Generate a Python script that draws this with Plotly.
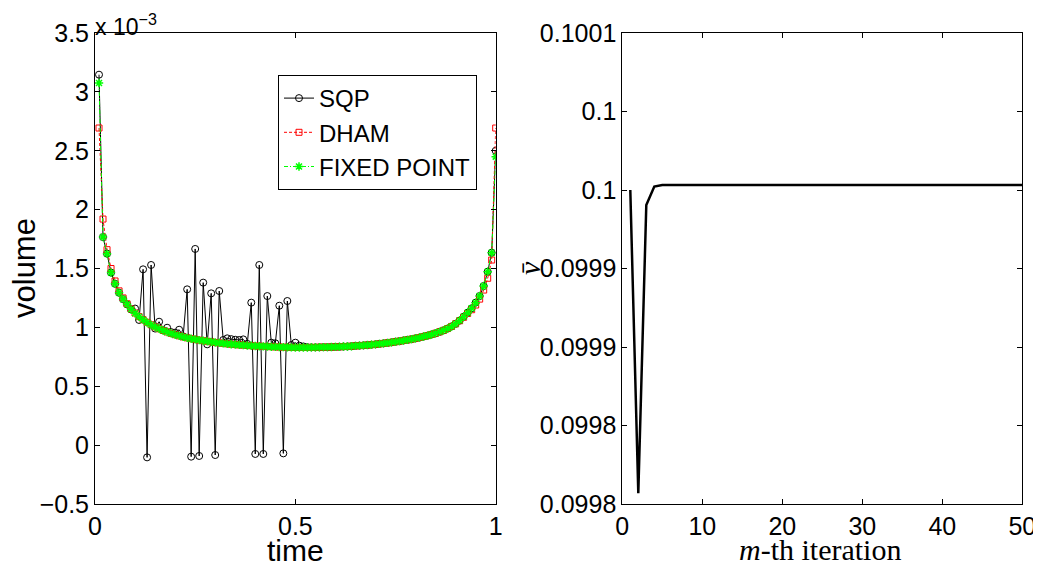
import plotly.graph_objects as go

# ---------------- data (left panel, volume in units of 1e-3) ----------------
time = [round(k * 0.01, 2) for k in range(1, 101)]

fixed_point = [
    3.075, 1.767, 1.626, 1.465, 1.370, 1.294, 1.240, 1.196, 1.153, 1.120,
    1.090, 1.064, 1.042, 1.022, 1.004, 0.988, 0.974, 0.961, 0.949, 0.938,
    0.928, 0.919, 0.911, 0.904, 0.898, 0.892, 0.887, 0.882, 0.877, 0.872,
    0.868, 0.864, 0.860, 0.857, 0.854, 0.851, 0.849, 0.846, 0.844, 0.842,
    0.840, 0.839, 0.837, 0.836, 0.834, 0.833, 0.832, 0.831, 0.830, 0.829,
    0.829, 0.829, 0.829, 0.830, 0.830, 0.831, 0.832, 0.832, 0.833, 0.834,
    0.835, 0.837, 0.838, 0.840, 0.843, 0.845, 0.847, 0.850, 0.853, 0.856,
    0.860, 0.864, 0.868, 0.873, 0.878, 0.883, 0.889, 0.894, 0.900, 0.907,
    0.914, 0.922, 0.930, 0.940, 0.950, 0.962, 0.975, 0.990, 1.008, 1.030,
    1.058, 1.090, 1.125, 1.162, 1.210, 1.266, 1.351, 1.473, 1.634, 2.450,
]

dham = [
    2.693, 1.920, 1.660, 1.500, 1.394, 1.310, 1.250, 1.200, 1.156, 1.122,
    1.091, 1.065, 1.043, 1.022, 1.004, 0.988, 0.974, 0.961, 0.949, 0.938,
    0.928, 0.919, 0.911, 0.904, 0.898, 0.892, 0.887, 0.882, 0.877, 0.872,
    0.868, 0.864, 0.860, 0.857, 0.854, 0.851, 0.849, 0.846, 0.844, 0.842,
    0.840, 0.839, 0.837, 0.836, 0.834, 0.833, 0.832, 0.831, 0.830, 0.829,
    0.829, 0.829, 0.829, 0.830, 0.830, 0.831, 0.832, 0.832, 0.833, 0.834,
    0.835, 0.837, 0.838, 0.840, 0.843, 0.845, 0.847, 0.850, 0.853, 0.856,
    0.860, 0.864, 0.868, 0.873, 0.878, 0.883, 0.889, 0.894, 0.900, 0.907,
    0.914, 0.922, 0.930, 0.940, 0.950, 0.962, 0.975, 0.990, 1.008, 1.030,
    1.056, 1.086, 1.118, 1.150, 1.190, 1.240, 1.317, 1.417, 1.572, 2.693,
]

sqp = [
    3.146, 1.767, 1.626, 1.465, 1.370, 1.294, 1.240, 1.196, 1.153, 1.160,
    1.063, 1.493, -0.104, 1.530, 0.990, 1.048, 0.975, 0.997, 0.960, 0.955,
    0.980, 0.924, 1.323, -0.098, 1.666, -0.092, 1.380, 0.856, 1.289, -0.084,
    1.309, 0.893, 0.907, 0.900, 0.895, 0.893, 0.898, 0.860, 1.210, -0.075,
    1.530, -0.075, 1.266, 0.870, 0.865, 1.184, -0.070, 1.224, 0.850, 0.870,
    0.845, 0.838, 0.832, 0.830, 0.830, 0.831, 0.832, 0.832, 0.833, 0.834,
    0.835, 0.837, 0.838, 0.840, 0.843, 0.845, 0.847, 0.850, 0.853, 0.856,
    0.860, 0.864, 0.868, 0.873, 0.878, 0.883, 0.889, 0.894, 0.900, 0.907,
    0.914, 0.922, 0.930, 0.940, 0.950, 0.962, 0.975, 0.990, 1.008, 1.030,
    1.058, 1.090, 1.125, 1.162, 1.210, 1.266, 1.351, 1.473, 1.634, 2.500,
]

left_yticks = [-0.5, 0, 0.5, 1, 1.5, 2, 2.5, 3, 3.5]
left_yticktext = ["\u22120.5", "0", "0.5", "1", "1.5", "2", "2.5", "3", "3.5"]
left_xticks = [0, 0.5, 1]
left_xticktext = ["0", "0.5", "1"]

# ---------------- data (right panel) ----------------
iteration = list(range(1, 51))
vbar = [0.0999500, 0.0997568, 0.0999404, 0.0999522] + [0.0999532] * 46

right_yticks = [0.09975, 0.09980, 0.09985, 0.09990, 0.09995, 0.10000, 0.10005]
right_yticktext = ["0.0998", "0.0998", "0.0999", "0.0999", "0.1", "0.1", "0.1001"]
right_xticks = [0, 10, 20, 30, 40, 50]

# ---------------- figure ----------------
# the page body has an 8px margin: place everything in window pixels minus OFF
OFF = 8
W, H = 1041 - OFF, 567 - OFF
SANS = "Liberation Sans, Arial, sans-serif"
SERIF = "Liberation Serif, DejaVu Serif, serif"


def px(x):
    return (x - OFF) / W


def py(y):
    return 1 - (y - OFF) / H


fig = go.Figure()

fig.add_trace(go.Scatter(
    x=time, y=sqp, name="SQP", mode="lines+markers",
    line=dict(color="black", width=1),
    marker=dict(symbol="circle-open", size=7, color="black", line=dict(width=1)),
    xaxis="x", yaxis="y"))
fig.add_trace(go.Scatter(
    x=time, y=dham, name="DHAM", mode="lines+markers",
    line=dict(color="#ff0000", width=1, dash="3px,2px"),
    marker=dict(symbol="square-open", size=6, color="#ff0000", line=dict(width=1)),
    xaxis="x", yaxis="y"))
fig.add_trace(go.Scatter(
    x=time, y=fixed_point, name="FIXED POINT", mode="lines+markers",
    line=dict(color="#00ff00", width=1, dash="4px,2px,1px,2px"),
    marker=dict(symbol="asterisk-open", size=7, color="#00ff00", line=dict(width=1.5, color="#00ff00")),
    xaxis="x", yaxis="y"))

fig.add_trace(go.Scatter(
    x=iteration, y=vbar, mode="lines", showlegend=False,
    line=dict(color="black", width=2.5),
    xaxis="x2", yaxis="y2"))

axis_common = dict(showline=True, linecolor="black", linewidth=1, mirror="ticks",
                   ticks="inside", ticklen=5, tickcolor="black", showgrid=False,
                   zeroline=False, automargin=False,
                   tickfont=dict(family=SANS, size=25, color="black"))

y0, y1 = py(504), py(33)

fig.update_layout(
    template="none",
    width=W, height=H,
    margin=dict(l=0, r=0, t=0, b=0, pad=0),
    paper_bgcolor="white", plot_bgcolor="white",
    xaxis=dict(domain=[px(95), px(495.7)], range=[0, 1], tickvals=left_xticks,
               ticktext=left_xticktext, anchor="y", **axis_common),
    yaxis=dict(domain=[y0, y1], range=[-0.5, 3.5], tickvals=left_yticks,
               ticktext=left_yticktext, anchor="x", **axis_common),
    xaxis2=dict(domain=[px(622.3), px(1022.3)], range=[0, 50], tickvals=right_xticks,
                anchor="y2", **axis_common),
    yaxis2=dict(domain=[y0, y1], range=[0.09975, 0.10005], tickvals=right_yticks,
                ticktext=right_yticktext, anchor="x2", **axis_common),
    legend=dict(x=px(278), y=py(75), xanchor="left", yanchor="top",
                bgcolor="white", bordercolor="black", borderwidth=1,
                font=dict(family=SANS, size=24, color="black"),
                tracegroupgap=0, itemwidth=30),
    showlegend=True,
)

annotations = [
    dict(text="time", x=px(295), y=py(550), xref="paper", yref="paper",
         showarrow=False, font=dict(family=SANS, size=30, color="black"),
         xanchor="center", yanchor="middle"),
    dict(text="volume", x=px(25), y=py(268), xref="paper", yref="paper",
         showarrow=False, textangle=-90, font=dict(family=SANS, size=31, color="black"),
         xanchor="center", yanchor="middle"),
    dict(text="x 10<sup>\u22123</sup>", x=px(93), y=1, xref="paper", yref="paper",
         showarrow=False, font=dict(family=SANS, size=23, color="black"),
         xanchor="left", yanchor="top"),
    dict(text="<i>m</i>-th iteration", x=px(820), y=py(549), xref="paper", yref="paper",
         showarrow=False, font=dict(family=SERIF, size=30, color="black"),
         xanchor="center", yanchor="middle"),
    dict(text="<i>v\u0304</i>", x=px(530), y=py(268), xref="paper", yref="paper",
         showarrow=False, textangle=-90, font=dict(family=SERIF, size=30, color="black"),
         xanchor="center", yanchor="middle"),
]
fig.update_layout(annotations=annotations)

fig.write_html("out.html")
